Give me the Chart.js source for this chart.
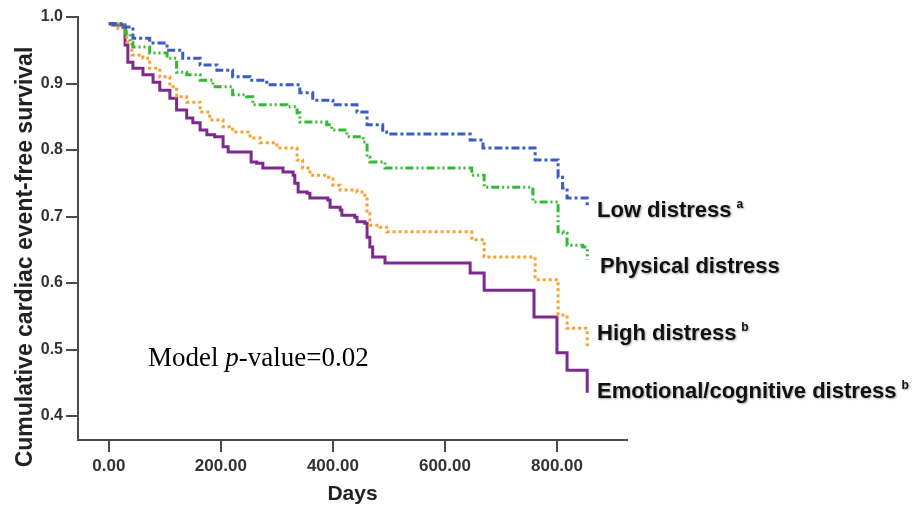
<!DOCTYPE html>
<html>
<head>
<meta charset="utf-8">
<script src="https://cdn.jsdelivr.net/npm/chart.js@4.4.0/dist/chart.umd.min.js"></script>
<style>
    html, body { margin: 0; padding: 0; background: #fff; }
</style>
</head>
<body>
<canvas id="myChart" width="922" height="511"></canvas>
<script>
// ---- data (days, survival after each step) ----
const lowDays = [0, 25, 43, 73, 104, 132, 163, 193, 221, 252, 282, 341, 364, 400, 443, 461, 489, 496, 645, 668, 761, 802, 810, 818, 854];
const lowSurv = [0.99, 0.985, 0.968, 0.961, 0.950, 0.938, 0.928, 0.920, 0.910, 0.905, 0.898, 0.886, 0.875, 0.868, 0.857, 0.838, 0.827, 0.824, 0.815, 0.803, 0.785, 0.759, 0.743, 0.728, 0.714];

const physDays = [0, 16, 30, 38, 43, 73, 104, 121, 139, 163, 186, 221, 246, 257, 318, 336, 341, 389, 398, 425, 454, 461, 466, 493, 648, 670, 757, 802, 811, 818, 846, 854];
const physSurv = [0.99, 0.988, 0.975, 0.962, 0.955, 0.946, 0.938, 0.917, 0.913, 0.905, 0.895, 0.883, 0.880, 0.868, 0.865, 0.856, 0.842, 0.838, 0.830, 0.820, 0.812, 0.789, 0.782, 0.773, 0.762, 0.744, 0.722, 0.677, 0.675, 0.657, 0.654, 0.635];

const highDays = [0, 16, 32, 41, 61, 73, 91, 109, 121, 139, 163, 180, 204, 221, 252, 270, 300, 336, 346, 359, 389, 400, 413, 443, 457, 461, 466, 484, 496, 648, 670, 761, 802, 814, 818, 854];
const highSurv = [0.99, 0.983, 0.962, 0.943, 0.938, 0.923, 0.910, 0.895, 0.880, 0.872, 0.857, 0.845, 0.835, 0.827, 0.818, 0.811, 0.803, 0.785, 0.773, 0.762, 0.759, 0.747, 0.740, 0.737, 0.732, 0.705, 0.687, 0.684, 0.677, 0.665, 0.639, 0.605, 0.552, 0.549, 0.532, 0.502];

const emoDays = [0, 7, 29, 34, 43, 61, 79, 91, 109, 121, 139, 150, 163, 175, 189, 204, 213, 254, 264, 275, 311, 329, 332, 338, 354, 359, 391, 395, 413, 416, 439, 443, 457, 461, 466, 471, 493, 645, 670, 759, 800, 818, 854];
const emoSurv = [0.99, 0.988, 0.958, 0.932, 0.923, 0.913, 0.902, 0.890, 0.878, 0.860, 0.848, 0.841, 0.830, 0.823, 0.820, 0.805, 0.797, 0.782, 0.780, 0.773, 0.767, 0.762, 0.750, 0.737, 0.735, 0.728, 0.725, 0.714, 0.710, 0.702, 0.699, 0.692, 0.690, 0.669, 0.654, 0.639, 0.630, 0.615, 0.589, 0.549, 0.495, 0.469, 0.435];

const xTicks = [0, 200, 400, 600, 800];
const yTicks = [0.4, 0.5, 0.6, 0.7, 0.8, 0.9, 1.0];

const groupNames = ['Low distress', 'Physical distress', 'High distress', 'Emotional/cognitive distress'];
const groupMarks = ['a', '', 'b', 'b'];

const toPoints = (days, surv) => days.map((d, i) => ({ x: d, y: surv[i] }));

const axisColor = '#4a4a4a';

const data = {
    datasets: [{
        label: groupNames[0],
        data: toPoints(lowDays, lowSurv),
        borderColor: '#3b5bc6',
        borderDash: [8, 3, 3, 3],
    }, {
        label: groupNames[1],
        data: toPoints(physDays, physSurv),
        borderColor: '#35b935',
        borderDash: [8, 3, 2, 3, 2, 3],
    }, {
        label: groupNames[2],
        data: toPoints(highDays, highSurv),
        borderColor: '#f8a12e',
        borderDash: [3, 3],
    }, {
        label: groupNames[3],
        data: toPoints(emoDays, emoSurv),
        borderColor: '#7d2a90',
    }]
};

data.datasets.forEach(ds => {
    ds.stepped = true;
    ds.borderWidth = 3;
    ds.pointRadius = 0;
    ds.fill = false;
});

// free text: axis title, group labels, model p-value
const textPlugin = {
    id: 'texts',
    afterDraw(chart) {
        const ctx = chart.ctx;
        ctx.save();
        ctx.fillStyle = '#111';

        // y title
        ctx.save();
        ctx.translate(32, 257);
        ctx.rotate(-Math.PI / 2);
        ctx.font = 'bold 23px "Liberation Sans", Arial, sans-serif';
        ctx.textAlign = 'center';
        ctx.textBaseline = 'alphabetic';
        ctx.fillStyle = '#222';
        ctx.fillText('Cumulative cardiac event-free survival', 0, 0);
        ctx.restore();

        // group labels
        const labelPos = [[597, 217], [600, 273], [597, 340], [597, 398]];
        ctx.shadowColor = 'rgba(0,0,0,0.35)';
        ctx.shadowBlur = 2;
        ctx.shadowOffsetX = 1;
        ctx.shadowOffsetY = 1;
        groupNames.forEach((name, i) => {
            const [lx, ly] = labelPos[i];
            ctx.font = 'bold 22px "Liberation Sans", Arial, sans-serif';
            ctx.textAlign = 'left';
            ctx.fillText(name, lx, ly);
            if (groupMarks[i]) {
                const w = ctx.measureText(name).width;
                ctx.font = 'bold 12px "Liberation Sans", Arial, sans-serif';
                ctx.fillText(groupMarks[i], lx + w + 5, ly - 9);
            }
        });
        ctx.shadowColor = 'transparent';
        ctx.shadowBlur = 0;
        ctx.shadowOffsetX = 0;
        ctx.shadowOffsetY = 0;

        // model p-value
        ctx.fillStyle = '#000';
        let tx = 148;
        const ty = 366;
        const serif = '"Liberation Serif", "Times New Roman", serif';
        ctx.font = '27px ' + serif;
        ctx.fillText('Model ', tx, ty);
        tx += ctx.measureText('Model ').width;
        ctx.font = 'italic 27px ' + serif;
        ctx.fillText('p', tx, ty);
        tx += ctx.measureText('p').width;
        ctx.font = '27px ' + serif;
        ctx.fillText('-value=0.02', tx, ty);

        ctx.restore();
    }
};

const config = {
    type: 'line',
    data: data,
    options: {
        responsive: false,
        animation: false,
        devicePixelRatio: 1,
        layout: {
            padding: { top: 17, right: 295, left: 0, bottom: 0 },
        },
        plugins: {
            legend: { display: false },
            tooltip: { enabled: false },
        },
        scales: {
            x: {
                type: 'linear',
                min: -55,
                max: 925,
                afterBuildTicks: (axis) => { axis.ticks = xTicks.map(v => ({ value: v })); },
                afterFit: (axis) => { axis.height = 71; },
                grid: {
                    drawOnChartArea: false,
                    drawTicks: true,
                    tickLength: 12,
                    color: axisColor,
                    lineWidth: 2,
                },
                border: { display: true, color: axisColor, width: 2 },
                ticks: {
                    padding: 4,
                    color: '#333',
                    font: { family: '"Liberation Sans", Arial, sans-serif', size: 17, weight: 'bold' },
                    callback: (v) => Number(v).toFixed(2),
                    maxRotation: 0,
                },
                title: {
                    display: true,
                    text: 'Days',
                    color: '#222',
                    font: { family: '"Liberation Sans", Arial, sans-serif', size: 21, weight: 'bold' },
                    padding: { top: 6 },
                },
            },
            y: {
                type: 'linear',
                min: 0.364,
                max: 1.0,
                afterBuildTicks: (axis) => { axis.ticks = yTicks.map(v => ({ value: v })); },
                afterFit: (axis) => { axis.width = 78; },
                grid: {
                    drawOnChartArea: false,
                    drawTicks: true,
                    tickLength: 12,
                    color: axisColor,
                    lineWidth: 2,
                },
                border: { display: true, color: axisColor, width: 2 },
                ticks: {
                    padding: 3,
                    color: '#333',
                    font: { family: '"Liberation Sans", Arial, sans-serif', size: 16, weight: 'bold' },
                    callback: (v) => Number(v).toFixed(1),
                },
            },
        }
    },
    plugins: [textPlugin]
};

const myChart = new Chart(
    document.getElementById('myChart'),
    config
);
</script>
</body>
</html>
